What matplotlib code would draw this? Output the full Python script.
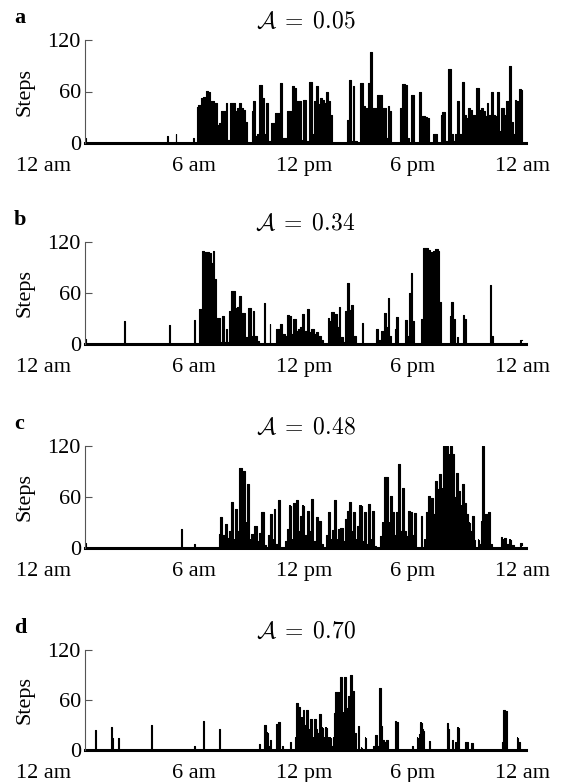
"""Minute-level step counts over one day for four users with different
activity scores (panels a-d)."""
import matplotlib
matplotlib.use("Agg")
import matplotlib.pyplot as plt
import matplotlib.transforms as mtransforms
import numpy as np

plt.rcParams["font.family"] = ["Liberation Serif", "DejaVu Serif"]
plt.rcParams["mathtext.fontset"] = "cm"
plt.rcParams["font.size"] = 16

PANELS = ["a", "b", "c", "d"]
ACTIVITY = [0.05, 0.34, 0.48, 0.70]
TICK_MIN = [0, 360, 720, 1080, 1440]
TICK_LABELS = ["12 am", "6 am", "12 pm", "6 pm", "12 am"]
Y_TICKS = [0, 60, 120]

# (minute of day, steps)
steps_a = [
    (0, 0), (2, 6), (4, 0),
    (269, 0), (271, 8), (273, 0), (298, 0), (300, 10), (302, 0), (355, 0), (357, 6), (359, 0),
    (367, 0), (369, 42), (378, 44), (386, 52), (392, 54), (403, 61), (409, 60), (415, 49), (424, 49),
    (428, 47), (438, 21), (447, 23), (451, 37), (461, 37), (466, 47), (472, 3), (483, 47), (489, 47),
    (497, 37), (504, 41), (509, 47), (518, 41), (524, 39), (529, 25), (535, 0),
    (548, 0), (550, 37), (554, 49), (564, 8), (569, 10), (579, 68), (584, 52), (592, 10), (600, 47),
    (607, 2), (615, 23), (621, 23), (632, 35), (638, 35), (647, 70), (653, 6), (661, 6), (669, 37),
    (676, 37), (684, 66), (690, 64), (699, 49), (707, 49), (713, 4), (724, 50), (733, 2), (744, 71),
    (749, 10), (756, 49), (764, 66), (772, 45), (777, 52), (784, 50), (790, 47), (796, 60), (802, 49),
    (810, 33), (816, 0),
    (862, 0), (864, 27), (873, 73), (879, 2), (884, 66), (890, 2), (902, 0), (911, 70), (919, 43),
    (926, 41), (936, 70), (942, 106), (947, 41), (953, 41), (959, 41), (967, 56), (974, 56), (982, 41),
    (988, 41), (993, 6), (999, 43), (1005, 37), (1010, 0),
    (1033, 0), (1039, 41), (1048, 69), (1056, 68), (1062, 6), (1070, 0), (1079, 56), (1085, 0),
    (1100, 0), (1102, 60), (1108, 2), (1114, 31), (1123, 30), (1131, 29), (1136, 0),
    (1145, 0), (1147, 11), (1157, 10), (1164, 0),
    (1170, 0), (1172, 33), (1181, 36), (1190, 2), (1202, 86), (1207, 10), (1214, 2), (1220, 10),
    (1228, 49), (1237, 10), (1245, 71), (1251, 33), (1259, 29), (1265, 41), (1271, 39), (1280, 33),
    (1285, 31), (1293, 64), (1299, 39), (1308, 41), (1314, 37), (1320, 31), (1326, 47), (1331, 33),
    (1340, 60), (1345, 33), (1352, 31), (1360, 59), (1366, 14), (1375, 41), (1383, 33), (1388, 49),
    (1394, 49), (1400, 90), (1406, 25), (1412, 10), (1417, 50), (1423, 49), (1429, 2), (1432, 63),
    (1437, 62), (1440, 0),
]

steps_b = [
    (0, 0), (2, 6), (5, 0),
    (128, 0), (131, 27), (134, 0), (274, 0), (277, 22), (280, 0), (357, 0), (360, 28), (363, 0),
    (374, 0), (377, 41), (383, 41), (388, 109), (395, 108), (403, 108), (412, 107), (418, 95),
    (423, 110), (428, 76), (435, 31), (443, 31), (447, 2), (455, 33), (461, 2), (466, 18), (472, 2),
    (478, 39), (486, 62), (491, 62), (497, 42), (504, 43), (512, 57), (518, 37), (524, 37), (529, 8),
    (543, 42), (550, 10), (554, 39), (561, 10), (569, 4), (575, 0),
    (589, 0), (592, 48), (595, 0), (606, 0), (609, 23), (612, 0),
    (629, 0), (632, 18), (638, 18), (646, 23), (653, 12), (661, 10), (667, 34), (674, 33), (680, 12),
    (690, 30), (697, 15), (703, 18), (713, 20), (719, 35), (726, 15), (735, 41), (740, 14), (749, 18),
    (756, 12), (764, 14), (772, 10), (779, 5), (787, 0),
    (798, 0), (802, 31), (807, 27), (816, 38), (822, 22), (827, 35), (833, 20), (838, 43), (844, 8),
    (852, 2), (859, 39), (867, 72), (873, 40), (879, 46), (887, 10), (896, 0),
    (910, 0), (913, 25), (917, 0),
    (957, 0), (960, 18), (967, 5), (982, 15), (988, 36), (993, 20), (999, 54), (1005, 10), (1012, 0),
    (1019, 0), (1022, 18), (1029, 32), (1035, 0),
    (1053, 0), (1056, 28), (1062, 10), (1070, 60), (1074, 83), (1081, 27), (1086, 0),
    (1105, 0), (1110, 30), (1115, 113), (1124, 113), (1133, 111), (1141, 108), (1149, 109),
    (1158, 112), (1164, 110), (1169, 50), (1175, 0),
    (1198, 0), (1203, 33), (1210, 49), (1215, 30), (1219, 0), (1224, 0), (1227, 8), (1231, 0),
    (1242, 0), (1245, 34), (1251, 30), (1256, 0),
    (1333, 0), (1336, 70), (1340, 10), (1345, 0),
    (1432, 0), (1435, 5), (1440, 5),
]

steps_c = [
    (0, 0), (2, 6), (5, 0),
    (314, 0), (317, 22), (320, 0), (357, 0), (360, 5), (363, 0),
    (440, 0), (443, 16), (449, 36), (456, 15), (463, 28), (470, 12), (478, 20), (483, 54), (489, 10),
    (497, 46), (504, 20), (513, 94), (518, 25), (524, 91), (529, 30), (536, 75), (543, 10), (552, 16),
    (561, 26), (569, 8), (577, 18), (584, 42), (592, 4), (598, 0),
    (601, 0), (604, 15), (612, 40), (619, 10), (623, 46), (630, 5), (638, 57), (644, 0),
    (658, 0), (661, 8), (669, 22), (676, 50), (681, 10), (687, 53), (693, 15), (699, 57), (704, 20),
    (713, 38), (719, 50), (726, 15), (733, 44), (740, 20), (747, 58), (754, 8), (764, 37), (772, 32),
    (779, 5), (787, 0),
    (792, 0), (795, 15), (802, 42), (809, 10), (816, 21), (823, 57), (829, 10), (836, 22), (844, 24),
    (852, 8), (859, 34), (866, 44), (873, 54), (879, 20), (887, 42), (894, 10), (900, 26), (907, 50),
    (914, 8), (921, 42), (928, 5), (936, 52), (942, 10), (949, 44), (955, 2), (962, 0),
    (971, 0), (974, 14), (982, 30), (988, 84), (994, 83), (1001, 30), (1008, 61), (1014, 42),
    (1022, 15), (1029, 42), (1034, 99), (1040, 20), (1047, 71), (1054, 20), (1061, 14), (1068, 44),
    (1073, 42), (1081, 15), (1088, 41), (1094, 0),
    (1104, 0), (1107, 38), (1110, 0),
    (1116, 0), (1119, 10), (1127, 42), (1134, 61), (1141, 59), (1148, 40), (1155, 79), (1161, 69),
    (1168, 87), (1175, 70), (1182, 120), (1191, 120), (1198, 110), (1205, 120), (1212, 111),
    (1219, 60), (1223, 88), (1230, 67), (1237, 50), (1245, 75), (1251, 53), (1258, 40), (1264, 30),
    (1271, 20), (1277, 38), (1282, 10), (1287, 0),
    (1291, 0), (1294, 10), (1299, 5), (1306, 32), (1311, 120), (1315, 5), (1322, 40), (1329, 42),
    (1336, 5), (1343, 0),
    (1369, 0), (1372, 13), (1377, 10), (1383, 12), (1391, 5), (1398, 10), (1405, 3), (1412, 3),
    (1416, 0), (1432, 0), (1435, 6), (1440, 4),
]

steps_d = [
    (0, 0),
    (31, 0), (34, 24), (37, 0), (83, 0), (86, 28), (92, 15), (95, 0), (108, 0), (111, 14), (114, 0),
    (215, 0), (218, 30), (221, 0), (357, 0), (360, 5), (363, 0), (386, 0), (389, 35), (392, 0),
    (440, 0), (443, 25), (446, 0),
    (572, 0), (575, 7), (578, 0),
    (589, 0), (592, 30), (598, 21), (604, 5), (612, 12), (616, 0),
    (629, 0), (632, 31), (639, 34), (642, 0), (647, 0), (650, 5), (653, 0), (673, 0), (676, 10), (679, 0),
    (689, 0), (692, 15), (699, 56), (703, 52), (710, 20), (715, 39), (719, 48), (724, 30), (731, 48),
    (737, 25), (744, 37), (750, 15), (756, 37), (762, 25), (767, 20), (773, 43), (779, 27), (785, 15),
    (793, 27), (800, 15), (807, 15), (813, 5), (818, 15), (822, 44), (827, 70), (833, 70), (838, 40),
    (844, 88), (850, 45), (857, 88), (864, 50), (870, 65), (877, 90), (884, 71), (889, 20), (893, 0),
    (898, 0), (901, 29), (904, 0), (908, 0), (911, 3), (914, 0), (922, 0), (925, 15), (928, 0),
    (948, 0), (951, 5), (959, 18), (965, 5), (971, 74), (976, 29), (982, 12), (988, 10), (994, 12),
    (998, 0),
    (1019, 0), (1022, 35), (1029, 34), (1033, 0),
    (1074, 0), (1077, 5), (1080, 0), (1090, 0), (1093, 15), (1097, 0),
    (1099, 0), (1102, 19), (1106, 33), (1111, 25), (1115, 23), (1119, 0), (1131, 0), (1134, 11), (1137, 0),
    (1189, 0), (1192, 32), (1198, 25), (1202, 0), (1207, 0), (1210, 12), (1213, 0),
    (1218, 0), (1221, 9), (1228, 27), (1232, 0), (1250, 0), (1253, 10), (1260, 10), (1265, 0),
    (1271, 0), (1274, 8), (1278, 0),
    (1372, 0), (1375, 10), (1380, 48), (1387, 47), (1391, 0),
    (1420, 0), (1423, 15), (1430, 10), (1434, 0), (1440, 0),
]

SERIES = [steps_a, steps_b, steps_c, steps_d]

W, H = 562, 782
LEFT, RIGHT = 85, 526
TOPS = [40, 242, 446, 650]
ZEROS = [143, 344, 548, 750]

fig = plt.figure(figsize=(W / 100, H / 100), dpi=100)

for label, act, series, top, zero in zip(PANELS, ACTIVITY, SERIES, TOPS, ZEROS):
    ax = fig.add_axes([LEFT / W, 1 - zero / H, (RIGHT - LEFT) / W, (zero - top) / H])
    m, s = np.array(series, dtype=float).T
    ax.fill_between(m, s, step="mid", color="black", lw=0)
    ax.plot(m, s, drawstyle="steps-mid", color="black", lw=0.8)
    ax.axhline(0, color="black", lw=2.2, clip_on=False)

    ax.set_xlim(0, 1452)
    ax.set_ylim(0, 120)
    for side in ("top", "right", "bottom"):
        ax.spines[side].set_visible(False)
    ax.spines["left"].set_color("#555555")
    ax.spines["left"].set_linewidth(0.8)

    ax.set_yticks(Y_TICKS)
    ax.tick_params(axis="y", direction="in", length=5, color="#555555", width=0.8, pad=3)
    ax.set_xticks(TICK_MIN, TICK_LABELS)
    ax.tick_params(axis="x", length=0, pad=10)
    first = ax.get_xticklabels()[0]
    first.set_transform(first.get_transform()
                        + mtransforms.ScaledTranslation(-0.42, 0, fig.dpi_scale_trans))

    ax.set_ylabel("Steps")
    ax.yaxis.set_label_coords(-0.115, 0.5)
    ax.set_title(rf"$\mathcal{{A}}\;=\;{act:.2f}$", pad=9, fontsize=17)
    fig.text(14 / W, 1 - (top - 22) / H, label, weight="bold", va="center")

fig.savefig("out.png", dpi=100)
